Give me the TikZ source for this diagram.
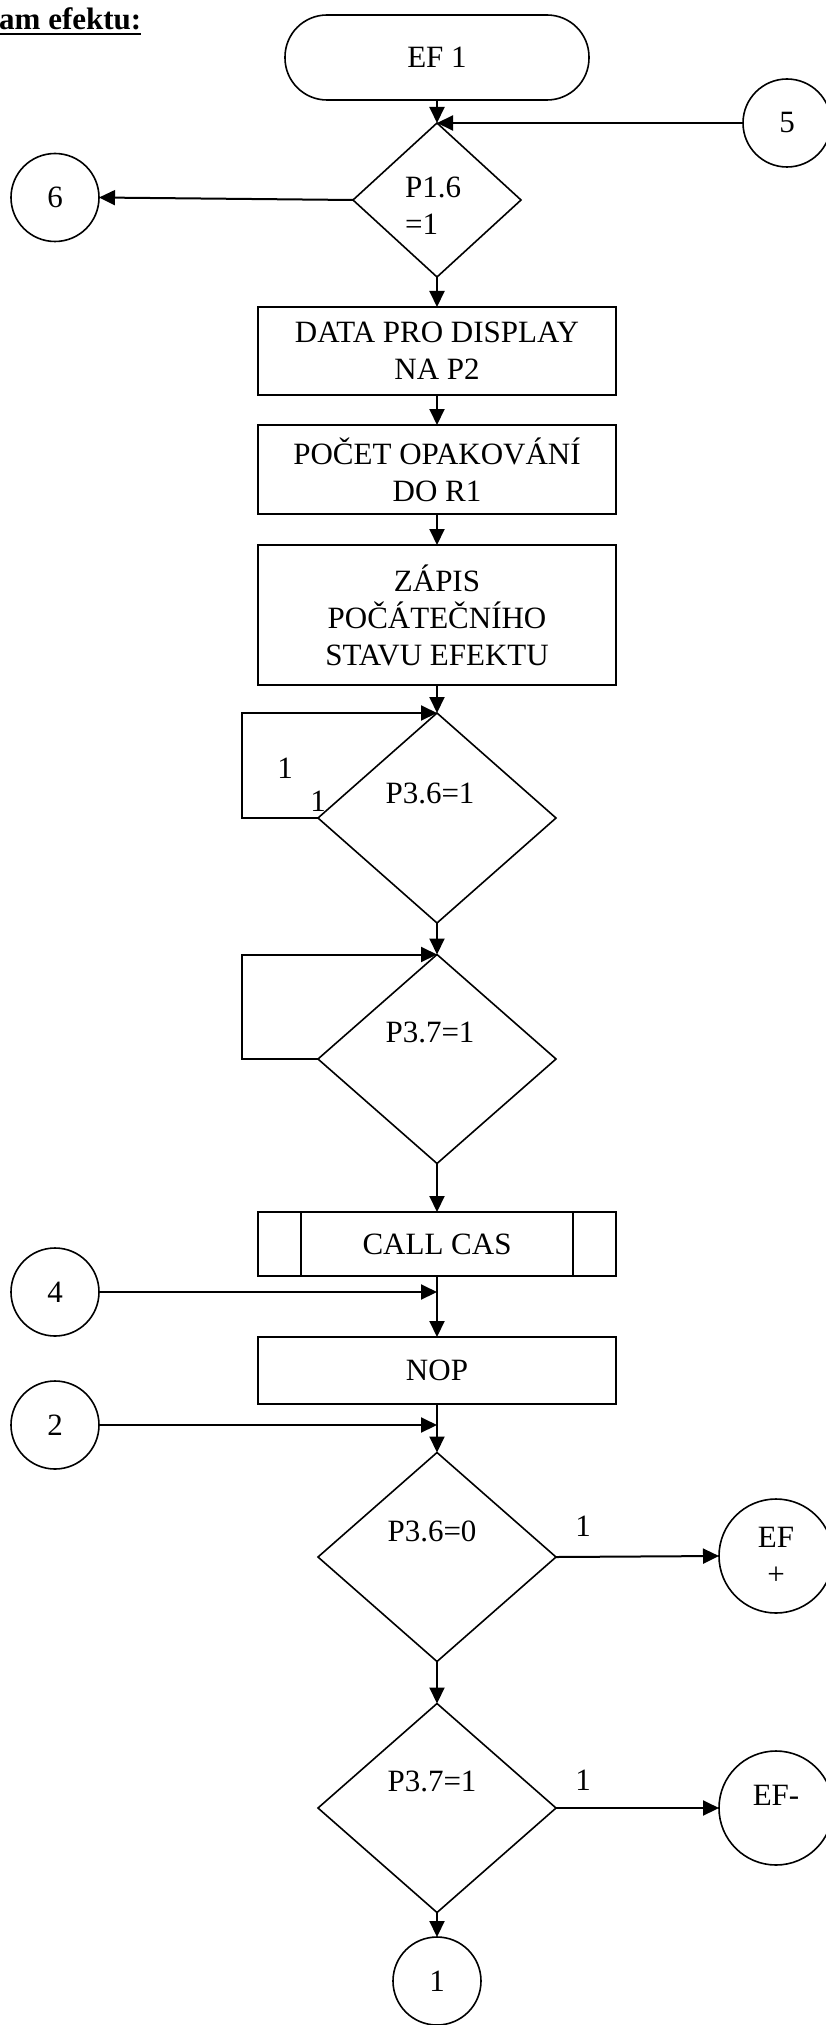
\documentclass[tikz,border=0pt]{standalone}
\usepackage{fontspec}
\setmainfont{Liberation Serif}
\usetikzlibrary{shapes.geometric,arrows.meta,calc}

\begin{document}
\begin{tikzpicture}[x=1pt,y=-1pt,
  every node/.style={font=\fontsize{31}{37}\selectfont},
  shp/.style={draw, line width=1.6pt, inner sep=0pt, outer sep=0pt},
  stepbox/.style={shp, rectangle, minimum width=358pt, align=center},
  cond/.style={shp, diamond, minimum width=238pt, minimum height=209pt},
  conn/.style={shp, circle, minimum size=88pt, align=center},
  txt/.style={inner sep=0pt, align=center},
  arr/.style={line width=2pt, -{Triangle[length=16pt,width=15pt]}},
  wire/.style={line width=1.6pt}
]
\useasboundingbox (0,0) rectangle (825,2025);

% heading
\node[txt, anchor=base west, font=\fontsize{31}{37}\selectfont\bfseries] (title) at (-1,30) {am efektu:};
\draw[line width=2.5pt] ([yshift=-4pt]title.base west) -- ([yshift=-4pt]title.base east);

% start and first test
\node[shp, rectangle, rounded corners=42pt, minimum width=304pt, minimum height=85pt] (ef1) at (437,57.5) {EF 1};
\node[cond, minimum width=168pt, minimum height=154pt] (d1) at (437,200) {};
\node[txt, align=left, anchor=west] (d1t) at (405,206) {P1.6\\=1};
\node[conn] (c5) at (787,123) {5};
\node[conn] (c6) at (55,197.5) {6};

% initialisation
\node[stepbox, minimum height=88pt] (b1) at (437,351) {DATA PRO DISPLAY\\NA P2};
\node[stepbox, minimum height=89pt] (b2) at (437,469.5) {POČET OPAKOVÁNÍ\\DO R1};
\node[stepbox, minimum height=140pt] (b3) at (437,615) {ZÁPIS\\POČÁTEČNÍHO\\STAVU EFEKTU};

% waiting loops
\node[cond, minimum height=210pt] (d2) at (437,818) {};
\node[txt] (d2t) at (430,793) {P3.6=1};
\node[txt] (one1) at (285,768) {1};
\node[txt] (one2) at (318,801) {1};
\node[cond] (d3) at (437,1059) {};
\node[txt] (d3t) at (430,1032) {P3.7=1};

% subroutine call
\node[stepbox, minimum height=64pt] (call) at (437,1244) {CALL CAS};
\draw[wire] ([xshift=43pt]call.north west) -- ([xshift=43pt]call.south west);
\draw[wire] ([xshift=-43pt]call.north east) -- ([xshift=-43pt]call.south east);
\node[conn] (c4) at (55,1292) {4};
\node[stepbox, minimum height=67pt] (nop) at (437,1370.5) {NOP};
\node[conn] (c2) at (55,1425) {2};

% button tests
\node[cond] (d4) at (437,1557) {};
\node[txt] (d4t) at (432,1531) {P3.6=0};
\node[conn, minimum size=114pt] (efp) at (776,1556) {EF\\+};
\node[txt] (lab4) at (583,1526) {1};
\node[cond] (d5) at (437,1808) {};
\node[txt] (d5t) at (432,1781) {P3.7=1};
\node[conn, minimum size=114pt] (efm) at (776,1808) {};
\node[txt] (efmt) at (776,1795) {EF-};
\node[txt] (lab5) at (583,1780) {1};
\node[conn] (c1) at (437,1981) {1};

% connectors
\draw[arr] (ef1.south) -- (d1.north);
\draw[arr] (c5.west) -- (d1.north);
\draw[arr] (d1.west) -- (c6.east);
\draw[arr] (d1.south) -- (b1.north);
\draw[arr] (b1.south) -- (b2.north);
\draw[arr] (b2.south) -- (b3.north);
\draw[arr] (b3.south) -- (d2.north);
\draw[arr] (d2.west) -- ++(-76,0) |- (d2.north);
\draw[arr] (d2.south) -- (d3.north);
\draw[arr] (d3.west) -- ++(-76,0) |- (d3.north);
\draw[arr] (d3.south) -- (call.north);
\draw[arr] (call.south) -- (nop.north);
\draw[arr] (c4.east) -- (c4.east -| call.south);
\draw[arr] (nop.south) -- (d4.north);
\draw[arr] (c2.east) -- (c2.east -| nop.south);
\draw[arr] (d4.east) -- (efp.west);
\draw[arr] (d4.south) -- (d5.north);
\draw[arr] (d5.east) -- (efm.west);
\draw[arr] (d5.south) -- (c1.north);
\end{tikzpicture}
\end{document}
